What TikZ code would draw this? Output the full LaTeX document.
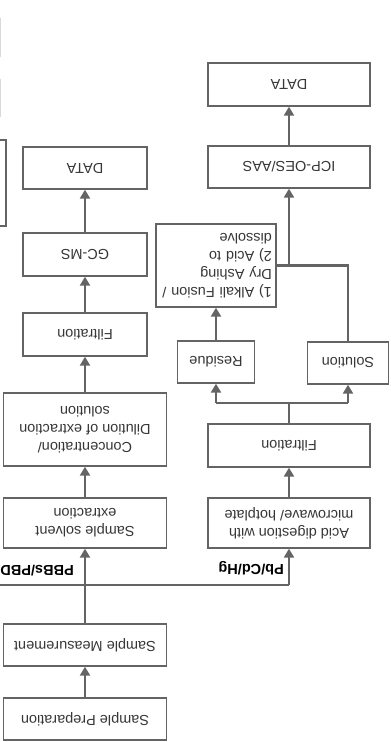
\documentclass[tikz,border=0pt]{standalone}
\usepackage{fontspec}
\setmainfont{Liberation Sans}
\usetikzlibrary{arrows.meta}
\definecolor{boxgray}{RGB}{100,100,100}
\definecolor{linkgray}{RGB}{100,100,100}
\definecolor{textgray}{RGB}{55,55,55}
\begin{document}
\begin{tikzpicture}[x=1pt, y=1pt, rotate=180, transform shape]
  \tikzstyle{box}=[draw=boxgray, line width=1.4pt, inner sep=2pt, fill=white, text=textgray, font=\fontsize{14.5}{18}\selectfont, align=center]
  \tikzstyle{wide}=[box, minimum width=163pt]
  \tikzstyle{mid}=[box, minimum width=124pt]
  \tikzstyle{link}=[draw=linkgray, line width=2.8pt]
  \tikzstyle{arr}=[link, -{Triangle[length=9pt, width=10pt]}]
  \tikzstyle{tag}=[font=\fontsize{14.5}{16}\selectfont\bfseries, anchor=west, inner sep=0pt]

  \path[use as bounding box] (0,0) rectangle (391,742);
  \clip (0,0) rectangle (391,742);

  % left-hand chain
  \node[wide, minimum height=42pt] (prep)  at (306, 719)   {Sample Preparation};
  \node[wide, minimum height=42pt] (meas)  at (306, 645)   {Sample Measurement};
  \node[wide, minimum height=50pt] (solv)  at (306, 523)   {Sample solvent\\extraction};
  \node[wide, minimum height=73pt] (conc)  at (306, 429.5) {Concentration/\\Dilution of extraction\\solution};
  \node[mid,  minimum height=43pt] (filt)  at (306, 334.5) {Filtration};
  \node[mid,  minimum height=43pt] (gcms)  at (306, 254.5) {GC-MS};
  \node[mid,  minimum height=42pt] (dataa) at (306, 168)   {DATA};

  % right-hand chain
  \node[box, minimum width=162pt, minimum height=50pt] (acid)  at (102, 523)   {Acid digestion with\\microwave/ hotplate};
  \node[box, minimum width=162pt, minimum height=43pt] (filtr) at (102, 445.5) {Filtration};
  \node[box, minimum width=77pt,  minimum height=42pt] (res)   at (175, 362)   {Residue};
  \node[box, minimum width=81pt,  minimum height=42pt] (sol)   at (43, 363)    {Solution};
  \node[box, text width=112pt, inner xsep=4pt, align=left, minimum height=83pt] (alk) at (175, 265.5)
    {1) Alkali Fusion /\\Dry Ashing\\2) Acid to\\dissolve};
  \node[box, minimum width=162pt, minimum height=42pt] (icp)   at (102, 167)   {ICP-OES/AAS};
  \node[box, minimum width=162pt, minimum height=43pt] (datab) at (102, 84.5)  {DATA};

  % cut-off box at the edge
  \draw[draw=boxgray, line width=1.4pt] (385,140) rectangle (430,226);
  \draw[black!15, line width=1pt] (390.5,18) -- (390.5,57);
  \draw[black!15, line width=1pt] (390.5,79) -- (390.5,117);

  \coordinate (br)  at (306, 585);
  \coordinate (brl) at (102, 585);
  \coordinate (bre) at (400, 585);
  \coordinate (sp)  at (102, 403);
  \coordinate (spl) at (43, 403);
  \coordinate (spr) at (175, 403);

  \draw[arr] (prep) -- (meas);
  \draw[link] (meas) -- (br);
  \draw[link] (brl) -- (bre);
  \draw[arr] (br) -- (solv);
  \draw[arr] (brl) -- (acid);
  \draw[arr] (solv) -- (conc);
  \draw[arr] (conc) -- (filt);
  \draw[arr] (filt) -- (gcms);
  \draw[arr] (gcms) -- (dataa);

  \draw[arr] (acid) -- (filtr);
  \draw[link] (filtr) -- (sp);
  \draw[link] (spl) -- (spr);
  \draw[arr] (spl) -- (sol);
  \draw[arr] (spr) -- (res);
  \draw[arr] (res) -- (alk);
  \draw[link] (sol.south) |- (alk.west);
  \draw[arr] (icp.north |- alk.west) -- (icp);
  \draw[arr] (icp) -- (datab);

  \node[tag] (pb)  at (107, 568) {Pb/Cd/Hg};
  \node[tag] (pbb) at (317, 571) {PBBs/PBDEs};
\end{tikzpicture}
\end{document}
